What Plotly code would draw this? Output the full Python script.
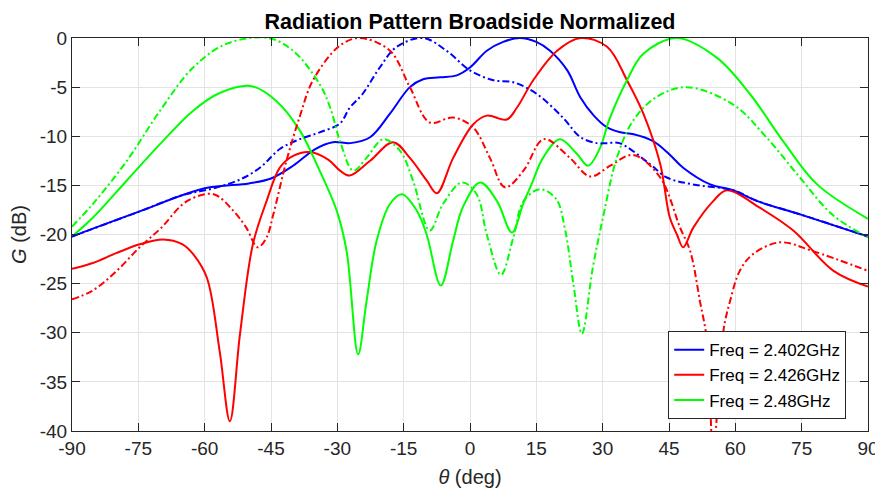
import plotly.graph_objects as go

# ---------------- data ----------------
b_solid_t = [-90, -75, -60, -50, -45, -40, -35, -31, -27, -22.6, -18.1, -13.6, -10.6, -6.8, -3, 0, 3.8, 7.5, 11.3, 15, 18.1, 22, 24.9, 28, 31, 34, 37, 41.4, 45, 48.2, 54.3, 59.5, 65, 75, 90]
b_solid_g = [-20.2, -17.7, -15.3, -14.8, -14.3, -13.0, -11.3, -10.6, -10.7, -10.1, -7.7, -5.0, -4.2, -4.0, -3.8, -3.0, -1.3, -0.4, 0, -0.4, -1.3, -3.3, -6.0, -7.9, -9.1, -9.6, -9.8, -10.5, -11.8, -13.2, -14.9, -15.5, -16.6, -18.0, -20.2]

b_dash_t = [-90, -75, -65, -58, -52, -47.5, -43, -38.5, -34, -29.4, -27.2, -24.3, -20.4, -16.6, -10.6, -5.3, 0, 5.3, 9.8, 15.1, 21, 25, 28.7, 31, 33.8, 40.6, 44.5, 50.4, 59.5, 65, 75, 90]
b_dash_g = [-20.2, -17.7, -16.0, -15.3, -14.4, -13.2, -11.3, -10.3, -9.6, -8.7, -7.1, -5.7, -3.0, -0.9, 0, -1.3, -3.3, -4.3, -4.5, -5.7, -8.1, -10.1, -10.7, -10.7, -10.7, -12.8, -14.2, -14.9, -15.5, -16.6, -18.0, -20.2]

r_solid_t = [-90, -85.3, -80, -74.7, -69.4, -65, -62.6, -59.5, -56.6, -54.3, -52, -49.1, -46, -43, -40, -36.2, -32, -29.4, -27.2, -22.6, -17.4, -13.6, -9.8, -7.5, -3.8, 0.7, 3.8, 8.3, 10.6, 14.3, 19.7, 25, 31, 35.5, 39.2, 43, 45.2, 46.8, 48.2, 50.5, 55, 58.1, 65.6, 73.1, 82.2, 90]
r_solid_g = [-23.5, -22.9, -21.9, -21.0, -20.5, -21.0, -22.0, -24.4, -31.9, -39.0, -30.1, -21.0, -16.6, -13.2, -12.0, -11.6, -12.4, -13.5, -14.0, -12.5, -10.6, -12.2, -14.5, -15.8, -12.2, -8.8, -7.9, -8.3, -7.1, -4.3, -1.3, 0, -0.9, -4.3, -7.7, -12.8, -18.3, -20.0, -21.3, -19.3, -16.6, -15.5, -17.3, -19.6, -23.7, -25.3]

r_dash_t = [-90, -85.3, -79.9, -74.7, -70, -64, -58, -53.5, -50.6, -48, -46, -44.5, -41.5, -38.5, -35.5, -29.5, -24.9, -18.1, -13.6, -9.1, -3.8, 0.7, 4.5, 7.9, 12.1, 15.9, 17.4, 22.6, 27.2, 31.7, 36.9, 43, 47.5, 49.8, 52, 53.6, 55, 57.3, 58.8, 61, 64, 70.1, 77.6, 90]
r_dash_g = [-26.6, -25.7, -23.7, -21.3, -19.4, -16.6, -15.9, -17.6, -19.3, -21.3, -20.3, -18.0, -12.5, -8.0, -4.3, -0.8, 0, -1.3, -5.0, -8.6, -8.1, -9.1, -12.2, -15.2, -13.5, -10.5, -10.3, -12.2, -14.1, -13.0, -11.9, -14.2, -19.3, -21.7, -26.8, -30.8, -42.0, -29.8, -26.8, -23.7, -22.0, -20.8, -21.7, -23.7]

g_solid_t = [-90, -85.3, -77.6, -70.1, -62.6, -56.6, -49.4, -43.8, -38.5, -34, -30.2, -27.9, -25.3, -23.4, -21.1, -18.1, -15.4, -12, -9.8, -6.6, -3.8, -1.6, 2.3, 6.1, 9.5, 12, 14, 16.5, 20.3, 24.2, 26.7, 29.4, 31.5, 35.5, 39.2, 46.8, 55.8, 63.3, 70.8, 78.5, 90]
g_solid_g = [-20.2, -18.3, -14.5, -10.8, -7.4, -5.6, -4.9, -6.4, -9.4, -13.5, -17.5, -21.7, -32.2, -26.8, -20.6, -16.9, -15.9, -17.6, -20.0, -25.2, -20.6, -17.2, -14.7, -16.6, -19.8, -16.9, -14.8, -12.2, -10.3, -11.8, -13.0, -11.2, -8.3, -4.3, -1.6, 0, -2.0, -5.7, -10.5, -14.9, -18.4]

g_dash_t = [-90, -85.3, -77.6, -70.1, -62.6, -55.1, -45.6, -40, -34, -31.6, -29.4, -26.4, -23.4, -19.6, -15.8, -12.9, -9.1, -6.1, -1.8, 1.5, 3.8, 7, 9.8, 12.1, 15.9, 19.5, 21.5, 23.4, 25.3, 27.8, 30.2, 33.2, 36.9, 42.2, 49, 59.6, 67, 74.6, 82, 90]
g_dash_g = [-19.2, -16.9, -12.5, -7.4, -3.0, -0.6, 0, -1.3, -4.7, -7.1, -10.5, -13.5, -12.2, -10.3, -11.5, -14.5, -19.6, -16.9, -14.7, -15.9, -20.0, -24.1, -20.3, -16.6, -15.4, -16.4, -19.5, -25.1, -30.1, -23.3, -18.0, -12.2, -8.4, -6.0, -5.0, -6.8, -10.1, -14.2, -18.0, -20.3]

legend_names = ["Freq = 2.402GHz", "Freq = 2.426GHz", "Freq = 2.48GHz"]
colors = ["#0000FF", "#FF0000", "#00FF00"]

x_ticks = list(range(-90, 91, 15))
y_ticks = list(range(-40, 1, 5))

FONT = "Liberation Sans, Arial, Helvetica, sans-serif"

# ---------------- figure ----------------
fig = go.Figure()
series = [
    (b_solid_t, b_solid_g, b_dash_t, b_dash_g),
    (r_solid_t, r_solid_g, r_dash_t, r_dash_g),
    (g_solid_t, g_solid_g, g_dash_t, g_dash_g),
]
DASHDOT = "7px,3px,2px,3px"
for i, (st, sg, dt, dg) in enumerate(series):
    fig.add_trace(go.Scatter(x=st, y=sg, mode="lines", name=legend_names[i],
                             line=dict(color=colors[i], width=2, shape="spline", smoothing=1.0)))
for i, (st, sg, dt, dg) in enumerate(series):
    fig.add_trace(go.Scatter(x=dt, y=dg, mode="lines", showlegend=False,
                             line=dict(color=colors[i], width=2, dash=DASHDOT, shape="spline", smoothing=1.0)))

axis_common = dict(
    showgrid=True, gridcolor="#e3e3e3", gridwidth=1,
    showline=True, linecolor="#262626", linewidth=1, mirror="allticks",
    ticks="inside", ticklen=8, tickcolor="#262626",
    zeroline=False, automargin=False,
    tickfont=dict(family=FONT, size=19, color="#262626"),
)

fig.update_xaxes(range=[-90, 90], tickvals=x_ticks, ticktext=[str(v) for v in x_ticks],
                 title=dict(text="<i>θ</i> (deg)", font=dict(family=FONT, size=20, color="#262626"), standoff=12),
                 **axis_common)
fig.update_yaxes(range=[-40, 0], tickvals=y_ticks, ticktext=[str(v) for v in y_ticks],
                 title=dict(text="<i>G</i> (dB)", font=dict(family=FONT, size=20, color="#262626"), standoff=8),
                 **axis_common)

# page has an 8px body margin, so the figure is sized to fit the 883x494 window
fig.update_layout(
    width=875, height=486,
    margin=dict(l=64, r=15, t=30, b=63),
    paper_bgcolor="white", plot_bgcolor="white",
    title=dict(text="<b>Radiation Pattern Broadside Normalized</b>", x=0.5, xref="paper",
               y=0.973, yanchor="middle",
               font=dict(family=FONT, size=21.5, color="black")),
    legend=dict(x=0.749, y=0.254, xanchor="left", yanchor="top",
                bgcolor="white", bordercolor="#262626", borderwidth=1,
                font=dict(family=FONT, size=17, color="black"),
                tracegroupgap=0, itemwidth=30),
    showlegend=True,
)

fig.write_html("out.html")
